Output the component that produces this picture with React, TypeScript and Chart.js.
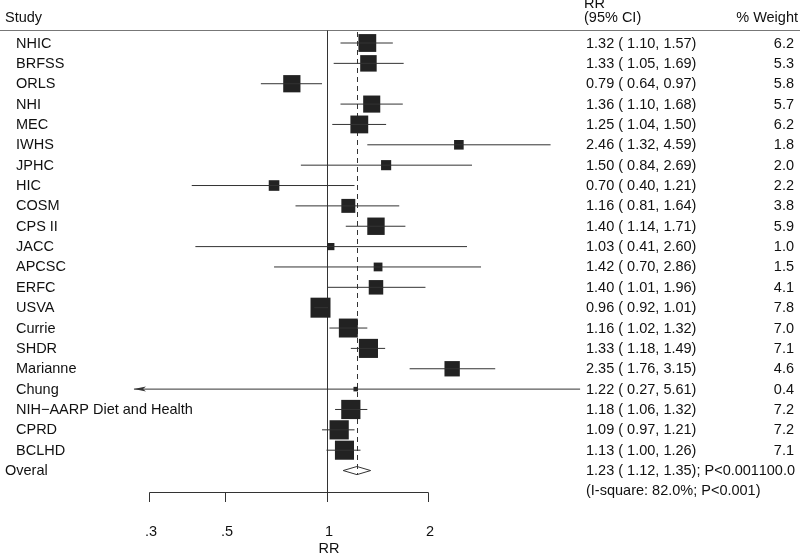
import React, { useEffect, useRef } from "react";
import { Chart, registerables } from "chart.js";

Chart.register(...registerables);

// ---------- data ----------
const studies = [
  "NHIC", "BRFSS", "ORLS", "NHI", "MEC", "IWHS", "JPHC", "HIC", "COSM", "CPS II", "JACC",
  "APCSC", "ERFC", "USVA", "Currie", "SHDR", "Marianne", "Chung", "NIH\u2212AARP Diet and Health",
  "CPRD", "BCLHD",
];
const rrValues = [1.32, 1.33, 0.79, 1.36, 1.25, 2.46, 1.5, 0.7, 1.16, 1.4, 1.03, 1.42, 1.4, 0.96, 1.16, 1.33, 2.35, 1.22, 1.18, 1.09, 1.13];
const ciLower = [1.1, 1.05, 0.64, 1.1, 1.04, 1.32, 0.84, 0.4, 0.81, 1.14, 0.41, 0.7, 1.01, 0.92, 1.02, 1.18, 1.76, 0.27, 1.06, 0.97, 1.0];
const ciUpper = [1.57, 1.69, 0.97, 1.68, 1.5, 4.59, 2.69, 1.21, 1.64, 1.71, 2.6, 2.86, 1.96, 1.01, 1.32, 1.49, 3.15, 5.61, 1.32, 1.21, 1.26];
const weights = [6.2, 5.3, 5.8, 5.7, 6.2, 1.8, 2.0, 2.2, 3.8, 5.9, 1.0, 1.5, 4.1, 7.8, 7.0, 7.1, 4.6, 0.4, 7.2, 7.2, 7.1];

const overallLabel = "Overal";
const overallRR = 1.23;
const overallLower = 1.12;
const overallUpper = 1.35;
const overallP = "P<0.001";
const overallWeight = 100.0;
const heterogeneityText = "(I-square: 82.0%; P<0.001)";

const axisTicks = [0.3, 0.5, 1, 2];
const axisTickLabels = [".3", ".5", "1", "2"];
const axisTitle = "RR";
const headerStudy = "Study";
const headerRR = ["RR", "(95% CI)"];
const headerWeight = "% Weight";

// ---------- layout (pixel geometry of the page) ----------
const W = 800;
const H = 554;
const X_ONE = 326.5; // pixel of RR = 1
const X_PER_DECADE = 338.6;
const ROW0 = 43; // pixel of first row
const ROW_STEP = 20.36;
const FONT = "14.5px 'Liberation Sans', Arial, Helvetica, sans-serif";
const INK = "#111";
const LINE = "#333";
const COL_RR = 586;
const COL_W = 794;

const xMin = Math.pow(10, -X_ONE / X_PER_DECADE);
const xMax = Math.pow(10, (W - X_ONE) / X_PER_DECADE);
const yMin = -ROW0 / ROW_STEP;
const yMax = (H - ROW0) / ROW_STEP;

const overallRow = studies.length;
const fmt2 = (v: number) => v.toFixed(2);

const forestPlugin = {
  id: "forestText",
  beforeDatasetsDraw(chart: any) {
    const ctx = chart.ctx;
    const xs = chart.scales.x;
    const ys = chart.scales.y;
    ctx.save();
    // header rule
    ctx.strokeStyle = "#777";
    ctx.lineWidth = 1;
    ctx.beginPath();
    ctx.moveTo(0, 30.5);
    ctx.lineTo(W, 30.5);
    ctx.stroke();
    // reference line at 1
    const x1 = Math.round(xs.getPixelForValue(1)) + 0.5;
    ctx.strokeStyle = LINE;
    ctx.beginPath();
    ctx.moveTo(x1, 30.5);
    ctx.lineTo(x1, 502);
    ctx.stroke();
    // overall dashed line
    const xo = Math.round(xs.getPixelForValue(overallRR)) + 0.5;
    ctx.setLineDash([5, 4]);
    ctx.beginPath();
    ctx.moveTo(xo, 32);
    ctx.lineTo(xo, ys.getPixelForValue(overallRow) + 4);
    ctx.stroke();
    ctx.setLineDash([]);
    // bottom axis
    const axY = 492.5;
    ctx.beginPath();
    ctx.moveTo(xs.getPixelForValue(axisTicks[0]), axY);
    ctx.lineTo(xs.getPixelForValue(axisTicks[axisTicks.length - 1]), axY);
    ctx.stroke();
    ctx.fillStyle = INK;
    ctx.font = FONT;
    ctx.textBaseline = "middle";
    ctx.textAlign = "center";
    axisTicks.forEach((t, i) => {
      const px = Math.round(xs.getPixelForValue(t)) + 0.5;
      ctx.beginPath();
      ctx.moveTo(px, axY);
      ctx.lineTo(px, 502);
      ctx.stroke();
      ctx.fillText(axisTickLabels[i], px + 1.5, 532);
    });
    ctx.fillText(axisTitle, xs.getPixelForValue(1) + 2.5, 549);
    ctx.restore();
  },
  afterDatasetsDraw(chart: any) {
    const ctx = chart.ctx;
    const xs = chart.scales.x;
    const ys = chart.scales.y;
    ctx.save();
    ctx.fillStyle = INK;
    ctx.font = FONT;
    ctx.textBaseline = "middle";
    // headers
    ctx.textAlign = "left";
    ctx.fillText(headerStudy, 5, 18);
    ctx.fillText(headerRR[0], COL_RR - 2, 4);
    ctx.fillText(headerRR[1], COL_RR - 2, 18);
    ctx.textAlign = "right";
    ctx.fillText(headerWeight, 798, 18);
    // rows
    studies.forEach((s, i) => {
      const y = ys.getPixelForValue(i) + 0.5;
      ctx.textAlign = "left";
      ctx.fillText(s, 16, y);
      ctx.fillText(`${fmt2(rrValues[i])} ( ${fmt2(ciLower[i])}, ${fmt2(ciUpper[i])})`, COL_RR, y);
      ctx.textAlign = "right";
      ctx.fillText(weights[i].toFixed(1), COL_W, y);
    });
    const yo = ys.getPixelForValue(overallRow) + 0.5;
    ctx.textAlign = "left";
    ctx.fillText(overallLabel, 5, yo);
    ctx.fillText(`${fmt2(overallRR)} ( ${fmt2(overallLower)}, ${fmt2(overallUpper)}); ${overallP}`, COL_RR, yo);
    ctx.fillText(heterogeneityText, COL_RR, yo + ROW_STEP);
    ctx.textAlign = "right";
    ctx.fillText(overallWeight.toFixed(1), COL_W + 1, yo);
    // arrow for truncated CI (lower bound beyond axis start)
    studies.forEach((s, i) => {
      if (ciLower[i] < axisTicks[0]) {
        const ax = xs.getPixelForValue(ciLower[i]);
        const ay = ys.getPixelForValue(i);
        ctx.fillStyle = LINE;
        ctx.beginPath();
        ctx.moveTo(ax, ay);
        ctx.lineTo(ax + 12, ay - 2.5);
        ctx.lineTo(ax + 9, ay);
        ctx.lineTo(ax + 12, ay + 2.5);
        ctx.closePath();
        ctx.fill();
      }
    });
    ctx.restore();
  },
};

export default function App() {
  const ref = useRef<HTMLCanvasElement | null>(null);
  useEffect(() => {
    if (!ref.current) return;
    const ciData: any[] = [];
    studies.forEach((_, i) => {
      ciData.push({ x: ciLower[i], y: i });
      ciData.push({ x: ciUpper[i], y: i });
      ciData.push({ x: null, y: null });
    });
    const pointData = studies.map((_, i) => ({ x: rrValues[i], y: i }));
    const radii = weights.map((w) => (7.16 * Math.sqrt(w)) / Math.SQRT2);
    const dh = 0.2;
    const diamond = [
      { x: overallLower, y: overallRow },
      { x: overallRR, y: overallRow - dh },
      { x: overallUpper, y: overallRow },
      { x: overallRR, y: overallRow + dh },
      { x: overallLower, y: overallRow },
    ];
    const chart = new Chart(ref.current, {
      type: "scatter",
      data: {
        datasets: [
          {
            type: "line",
            data: ciData,
            borderColor: LINE,
            borderWidth: 1,
            pointRadius: 0,
            spanGaps: false,
            tension: 0,
          } as any,
          {
            type: "scatter",
            data: pointData,
            pointStyle: "rect",
            pointRadius: radii,
            backgroundColor: "#222",
            borderWidth: 0,
          } as any,
          {
            type: "line",
            data: diamond,
            borderColor: LINE,
            borderWidth: 1,
            backgroundColor: "#fff",
            fill: false,
            pointRadius: 0,
            tension: 0,
          } as any,
        ],
      },
      options: {
        animation: false,
        responsive: false,
        events: [],
        layout: { padding: 0, autoPadding: false },
        plugins: { legend: { display: false }, tooltip: { enabled: false }, title: { display: false } },
        scales: {
          x: { type: "logarithmic", min: xMin, max: xMax, display: false },
          y: { type: "linear", reverse: true, min: yMin, max: yMax, display: false },
        },
      },
      plugins: [forestPlugin],
    });
    return () => chart.destroy();
  }, []);
  return (
    <div style={{ position: "fixed", left: 0, top: 0, width: W, height: H, background: "#fff" }}>
      <canvas ref={ref} width={W} height={H} style={{ display: "block" }} />
    </div>
  );
}
